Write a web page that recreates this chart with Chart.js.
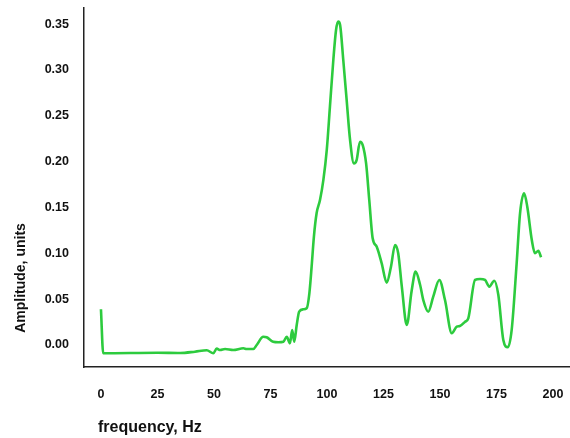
<!DOCTYPE html>
<html>
<head>
<meta charset="utf-8">
<script src="https://cdn.jsdelivr.net/npm/chart.js@4"></script>
<style>
  body { margin: 0; background: #fff; }
  #wrap { width: 570px; height: 438px; }
</style>
</head>
<body>
<div id="wrap"><canvas id="chart" width="570" height="438"></canvas></div>
<script>
// values
const freq = [0, 1, 25, 35, 41.6, 46.8, 49.7, 51.2, 52.7, 54.9, 58.5, 63, 64.5, 67.4, 68.9,
  71.8, 73.3, 76.2, 78.5, 80.7, 82.2, 83.6, 84.6, 85.5, 86.6, 87.7, 89.5, 91.0, 92.2, 93.2,
  94.2, 95.4, 96.9, 98.4, 99.9, 101.3, 102.8, 104.0, 105.0, 105.8, 107.2, 108.7, 110.2, 111.9,
  113.1, 114.6, 115.8, 117.3, 118.7, 120.2, 122.0, 124.2, 126.4, 128.3, 130.1, 131.5, 133.1,
  135.3, 137.4, 139.2, 141.2, 142.6, 144.8, 147.0, 149.7, 152.2, 155.2, 157.4, 158.8, 161.1,
  162.5, 165.5, 167.7, 169.9, 171.8, 174.0, 175.8, 178.0, 180.0, 181.7, 183.9, 185.4, 187.2,
  188.6, 190.6, 192.0, 193.5, 194.7];
const amp = [0.039, -0.009, -0.0084, -0.0087, -0.0073, -0.0058, -0.009, -0.004, -0.0055, -0.0044,
  -0.0055, -0.0036, -0.0044, -0.0044, 0, 0.009, 0.0084, 0.0036, 0.003, 0.0036, 0.009, 0.0019,
  0.0164, 0.0036, 0.0218, 0.0363, 0.0389, 0.040, 0.0564, 0.0854, 0.118, 0.1436, 0.158, 0.18,
  0.2127, 0.26, 0.3108, 0.3435, 0.3526, 0.349, 0.3108, 0.267, 0.2236, 0.198, 0.2017, 0.2217,
  0.218, 0.198, 0.158, 0.1164, 0.1072, 0.089, 0.068, 0.0854, 0.109, 0.1, 0.0636, 0.0218,
  0.0583, 0.08, 0.0654, 0.049, 0.0363, 0.0527, 0.0709, 0.049, 0.0128, 0.02, 0.0207, 0.0254,
  0.0291, 0.0709, 0.072, 0.0709, 0.0636, 0.0701, 0.0545, 0.0055, -0.0025, 0.0164, 0.0891,
  0.1436, 0.1654, 0.1508, 0.1145, 0.1, 0.1028, 0.0956];

const xTicks = [0, 25, 50, 75, 100, 125, 150, 175, 200];
const yTicks = [0, 0.05, 0.10, 0.15, 0.20, 0.25, 0.30, 0.35];
const xTitle = 'frequency, Hz';
const yTitle = 'Amplitude, units';

const points = freq.map((f, i) => ({x: f, y: amp[i]}));
const tickFont = {family: '"Liberation Sans", Arial, sans-serif', size: 12.5, weight: 'bold'};

// axis titles sit left/below, not centred, so draw them here
const axisTitles = {
  id: 'axisTitles',
  afterDraw(chart) {
    const {ctx, chartArea} = chart;
    ctx.save();
    ctx.fillStyle = '#111';
    ctx.font = 'bold 16px "Liberation Sans", Arial, sans-serif';
    ctx.textAlign = 'left';
    ctx.textBaseline = 'middle';
    ctx.fillText(xTitle, chartArea.left + 14, chartArea.bottom + 61);
    ctx.translate(chartArea.left - 63, chartArea.bottom - 89);
    ctx.rotate(-Math.PI / 2);
    ctx.font = 'bold 14px "Liberation Sans", Arial, sans-serif';
    ctx.textAlign = 'center';
    ctx.fillText(yTitle, 0, 0);
    ctx.restore();
  }
};

// drop the extra room chart.js keeps for end labels
function noPad(s) {
  s.paddingTop = 0; s.paddingBottom = 0;
  s.paddingLeft = 0; s.paddingRight = 0;
}

new Chart(document.getElementById('chart'), {
  type: 'line',
  data: {
    datasets: [{
      data: points,
      borderColor: '#2dcb3e',
      borderWidth: 2.6,
      pointRadius: 0,
      fill: false,
      cubicInterpolationMode: 'monotone'
    }]
  },
  options: {
    responsive: false,
    animation: false,
    layout: {padding: {top: 8, right: 0, left: 0, bottom: 0}},
    plugins: {legend: {display: false}, tooltip: {enabled: false}},
    scales: {
      x: {
        type: 'linear',
        min: -7.5,
        max: 207.5,
        afterBuildTicks: (s) => { s.ticks = xTicks.map(v => ({value: v})); },
        afterFit: (s) => { s.height = 71; noPad(s); },
        grid: {display: false, drawTicks: false},
        border: {display: true, color: '#222', width: 1.5},
        ticks: {color: '#111', font: tickFont, padding: 20, maxRotation: 0, autoSkip: false}
      },
      y: {
        min: -0.024,
        max: 0.3675,
        afterBuildTicks: (s) => { s.ticks = yTicks.map(v => ({value: v})); },
        afterFit: (s) => { s.width = 84; noPad(s); },
        grid: {display: false, drawTicks: false},
        border: {display: true, color: '#222', width: 1.5},
        ticks: {color: '#111', font: tickFont, padding: 15, callback: (v) => v.toFixed(2)}
      }
    }
  },
  plugins: [axisTitles]
});
</script>
</body>
</html>
